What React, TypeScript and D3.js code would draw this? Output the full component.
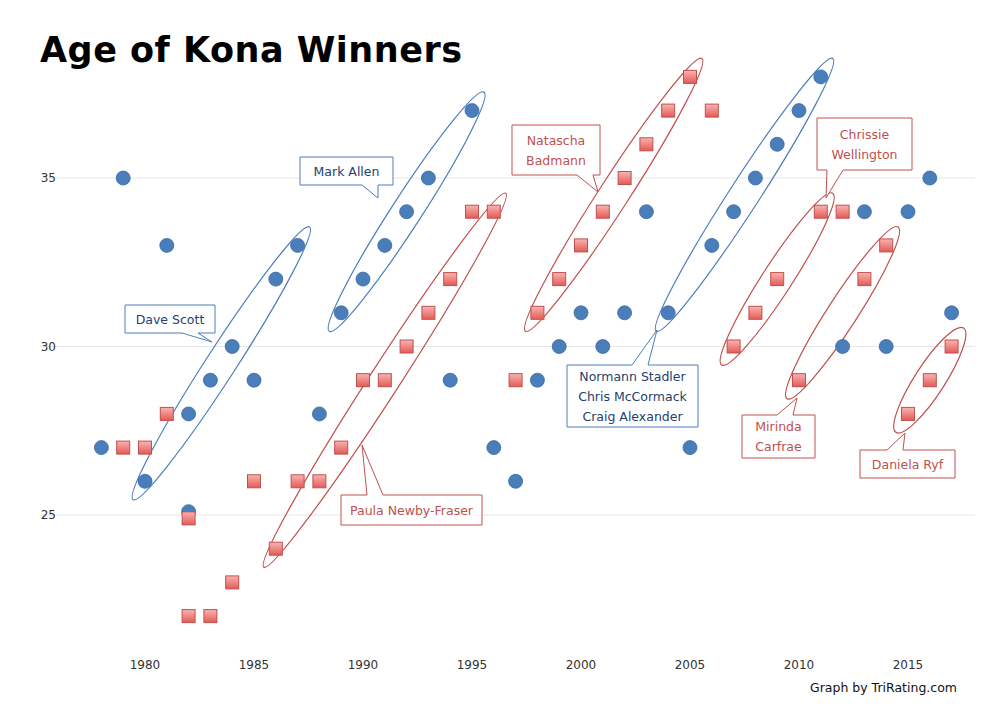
import * as d3 from "d3";

// men (blue): [year, age]
const menAges: [number, number][] = [
  [1978, 27], [1979, 35], [1980, 26], [1981, 33], [1982, 28], [1982, 25.1], [1983, 29],
  [1984, 30], [1985, 29], [1986, 32], [1987, 33], [1988, 28], [1989, 31], [1990, 32],
  [1991, 33], [1992, 34], [1993, 35], [1994, 29], [1995, 37], [1996, 27], [1997, 26],
  [1998, 29], [1999, 30], [2000, 31], [2001, 30], [2002, 31], [2003, 34], [2004, 31],
  [2005, 27], [2006, 33], [2007, 34], [2008, 35], [2009, 36], [2010, 37], [2011, 38],
  [2012, 30], [2013, 34], [2014, 30], [2015, 34], [2016, 35], [2017, 31]
];
// women (red)
const womenAges: [number, number][] = [
  [1979, 27], [1980, 27], [1981, 28], [1982, 24.9], [1982, 22], [1983, 22], [1984, 23],
  [1985, 26], [1986, 24], [1987, 26], [1988, 26], [1989, 27], [1990, 29], [1991, 29],
  [1992, 30], [1993, 31], [1994, 32], [1995, 34], [1996, 34], [1997, 29], [1998, 31],
  [1999, 32], [2000, 33], [2001, 34], [2002, 35], [2003, 36], [2004, 37], [2005, 38],
  [2006, 37], [2007, 30], [2008, 31], [2009, 32], [2010, 29], [2011, 34], [2012, 34],
  [2013, 32], [2014, 33], [2015, 28], [2016, 29], [2017, 30]
];
const xTicks = [1980, 1985, 1990, 1995, 2000, 2005, 2010, 2015];
const yTicks = [25, 30, 35];

interface Streak {
  lines: string[];
  men: boolean;
  from: [number, number];
  to: [number, number];
  box: [number, number, number, number];
  side: "top" | "bottom";
  tailX: number;
  tip: [number, number];
}
const streaks: Streak[] = [
  { lines: ["Dave Scott"], men: true, from: [1980, 26], to: [1987, 33], box: [125, 305, 90, 28], side: "bottom", tailX: 190, tip: [212, 342] },
  { lines: ["Mark Allen"], men: true, from: [1989, 31], to: [1995, 37], box: [300, 157, 93, 28], side: "bottom", tailX: 370, tip: [378, 198] },
  { lines: ["Normann Stadler", "Chris McCormack", "Craig Alexander"], men: true, from: [2004, 31], to: [2011, 38], box: [567, 365, 131, 62], side: "top", tailX: 640, tip: [657, 330] },
  { lines: ["Paula Newby-Fraser"], men: false, from: [1986, 24], to: [1996, 34], box: [341, 495, 141, 30], side: "top", tailX: 375, tip: [362, 445] },
  { lines: ["Natascha", "Badmann"], men: false, from: [1998, 31], to: [2005, 38], box: [512, 125, 88, 50], side: "bottom", tailX: 585, tip: [598, 192] },
  { lines: ["Chrissie", "Wellington"], men: false, from: [2007, 30], to: [2011, 34], box: [817, 118, 95, 52], side: "bottom", tailX: 835, tip: [826, 198] },
  { lines: ["Mirinda", "Carfrae"], men: false, from: [2010, 29], to: [2014, 33], box: [742, 415, 73, 43], side: "top", tailX: 785, tip: [797, 398] },
  { lines: ["Daniela Ryf"], men: false, from: [2015, 28], to: [2017, 30], box: [860, 450, 95, 28], side: "top", tailX: 895, tip: [905, 433] }
];

const blue = "#4a7ebb";
const red = "#c0504d";
const x = d3.scaleLinear().domain([1980, 2015]).range([145, 908]);
const y = d3.scaleLinear().domain([25, 35]).range([515, 178]);

function calloutPath(s: Streak): string {
  const [bx, by, w, h] = s.box;
  const [tx, ty] = s.tip;
  const a = s.tailX - 8, b = s.tailX + 8;
  if (s.side === "bottom") {
    return `M${bx},${by}H${bx + w}V${by + h}H${b}L${tx},${ty}L${a},${by + h}H${bx}Z`;
  }
  return `M${bx},${by}H${a}L${tx},${ty}L${b},${by}H${bx + w}V${by + h}H${bx}Z`;
}

export default function App() {
  return (
    <svg width={994} height={716} style={{ display: "block", margin: -8, fontFamily: "'DejaVu Sans', sans-serif" }}>
      <defs>
        <linearGradient id="sq" x1="0" y1="0" x2="0" y2="1">
          <stop offset="0" stopColor="#f9b4b2" />
          <stop offset="1" stopColor="#e35a57" />
        </linearGradient>
      </defs>
      <rect width={994} height={716} fill="#fff" />
      <text x={40} y={62} fontSize={35} fontWeight="bold" fill="#000" textLength={422}>Age of Kona Winners</text>
      {yTicks.map((t) => (
        <g key={t}>
          <line x1={40} x2={975} y1={y(t)} y2={y(t)} stroke="#e6e6e6" />
          <text x={56} y={y(t) + 4} textAnchor="end" fontSize={12} fill="#333">{t}</text>
        </g>
      ))}
      {xTicks.map((t) => (
        <text key={t} x={x(t)} y={669} textAnchor="middle" fontSize={12} fill="#333">{t}</text>
      ))}
      {streaks.map((s, i) => {
        const x1 = x(s.from[0]), y1 = y(s.from[1]), x2 = x(s.to[0]), y2 = y(s.to[1]);
        const len = Math.hypot(x2 - x1, y2 - y1);
        const ang = (Math.atan2(y2 - y1, x2 - x1) * 180) / Math.PI;
        return (
          <ellipse key={i} cx={(x1 + x2) / 2} cy={(y1 + y2) / 2} rx={len / 2 + 22} ry={15}
            transform={`rotate(${ang} ${(x1 + x2) / 2} ${(y1 + y2) / 2})`}
            fill="none" stroke={s.men ? blue : red} strokeWidth={1.2} />
        );
      })}
      {menAges.map(([yr, a], i) => (
        <circle key={i} cx={x(yr)} cy={y(a)} r={7} fill={blue} stroke="#3b6aa3" strokeWidth={0.8} />
      ))}
      {womenAges.map(([yr, a], i) => (
        <rect key={i} x={x(yr) - 6.5} y={y(a) - 6.5} width={13} height={13} fill="url(#sq)" stroke={red} strokeWidth={1} />
      ))}
      {streaks.map((s, i) => {
        const [bx, by, w, h] = s.box;
        const col = s.men ? blue : red;
        const lh = 20;
        const y0 = by + h / 2 - ((s.lines.length - 1) * lh) / 2 + 4.5;
        return (
          <g key={i}>
            <path d={calloutPath(s)} fill="#fff" stroke={col} strokeWidth={1} />
            {s.lines.map((l, j) => (
              <text key={j} x={bx + w / 2} y={y0 + j * lh} textAnchor="middle" fontSize={12.5}
                fill={s.men ? "#1f3f6e" : red}>{l}</text>
            ))}
          </g>
        );
      })}
      <text x={957} y={692} textAnchor="end" fontSize={12.5} fill="#111">Graph by TriRating.com</text>
    </svg>
  );
}
